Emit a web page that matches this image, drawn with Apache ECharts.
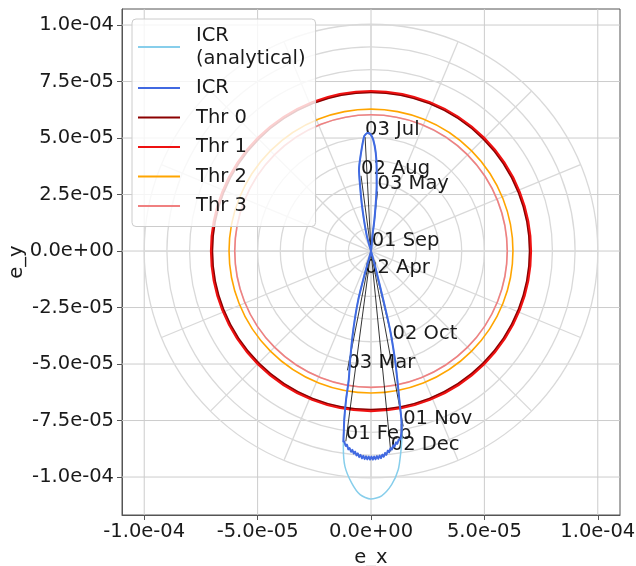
<!DOCTYPE html>
<html lang="en">
<head>
<meta charset="UTF-8">
<title>ICR</title>
<script src="https://cdn.jsdelivr.net/npm/echarts@6.0.0/dist/echarts.min.js"></script>
<style>
    html, body { margin: 0; padding: 0; background: #fff; }
    #chart { width: 636px; height: 566px; }
</style>
</head>
<body>
<div id="chart"></div>
<script>
// all values in units of 1e-6
var xTicks = [-100, -50, 0, 50, 100];
var yTicks = [-100, -75, -50, -25, 0, 25, 50, 75, 100];
var gridRadii = [10, 20, 30, 40, 50, 60, 70, 80, 90, 100];
var gridAngles = [0, 22.5, 45, 67.5, 90, 112.5, 135, 157.5, 180, 202.5, 225, 247.5, 270, 292.5, 315, 337.5];

var analyticX = [0, 2.2, 5.4, 8.4, 10.6, 11.6, 12.5, 13.4, 13.6, 13.1, 12.0, 9.1, 4.7, -0.1, -4.8, -8.5, -11.5, -12.2,
    -12.0, -11.8, -11.0, -9.8, -9.2, -7.8, -5.6, -2.6, 0, 0.6, 1.5, 2.1, 2.5, 2.5, 2.1, 1.0, -0.4, -1.6, -3.0, -4.4,
    -5.3, -4.8, -4.1, -3.1, -1.8, 0];
var analyticY = [0, -8.3, -21.5, -34.8, -48.2, -56.9, -65.8, -74.6, -82, -89.4, -96.8, -103.4, -108.3, -109.7, -107.8,
    -102.7, -95.3, -86.5, -80, -74.6, -65.8, -56.9, -48.2, -34.8, -21.5, -9.5, 0, 6.5, 13.8, 21.2, 28.6, 36, 43.4, 49.2,
    51.9, 52.2, 50.8, 43.4, 36, 28.6, 21.2, 13.8, 6.5, 0];

// numerical ICR: noisy near the bottom of the lower lobe
var icrX = [0, 2.2, 5.4, 8.4, 10.6, 11.6, 12.5, 13.4, 13.5, 12.8,
    12.2, 11.6, 11.0, 10.4, 9.8, 9.2, 8.6, 8.0, 7.4, 6.8, 6.2, 5.6, 5.0, 4.4, 3.8, 3.2, 2.6, 2.0, 1.4, 0.8, 0.2,
    -0.4, -1.0, -1.6, -2.2, -2.8, -3.4, -4.0, -4.6, -5.2, -5.8, -6.4, -7.0, -7.6, -8.2, -8.8, -9.4, -10.0, -10.6,
    -11.2, -11.8, -12.2,
    -12.0, -11.8, -11.0, -9.8, -9.2, -7.8, -5.6, -2.6, 0,
    0.6, 1.5, 2.1, 2.5, 2.5, 2.1, 1.0, -0.4, -1.6, -3.0, -4.4, -5.3, -4.8, -4.1, -3.1, -1.8, 0];
var icrY = [0, -8.3, -21.5, -34.8, -48.2, -56.9, -65.8, -74.6, -79.1, -83.5,
    -83.4, -85.4, -84.6, -86.6, -85.9, -87.9, -87.1, -89.1, -88.3, -90.3, -89.3, -91.1, -90.0, -91.7, -90.5, -92.0,
    -90.7, -92.2, -90.9, -92.3, -90.9, -92.3, -90.9, -92.2, -90.8, -92.1, -90.6, -91.8, -90.1, -91.2, -89.5, -90.5,
    -88.7, -89.7, -87.9, -88.9, -87.1, -87.8, -85.6, -86.3, -84.2, -84.5,
    -80, -74.6, -65.8, -56.9, -48.2, -34.8, -21.5, -9.5, 0,
    6.5, 13.8, 21.2, 28.6, 36, 43.4, 49.2, 51.9, 52.2, 50.8, 43.4, 36, 28.6, 21.2, 13.8, 6.5, 0];

var thrNames = ['Thr 0', 'Thr 1', 'Thr 2', 'Thr 3'];
var thrRadii = [70.0, 70.6, 62.6, 60.1];

var dateNames = ['03 Jul', '02 Aug', '03 May', '01 Sep', '02 Apr', '02 Oct', '03 Mar', '01 Nov', '01 Feb', '02 Dec'];
var dateX = [-2.6, -4.4, 2.9, 0.3, -2.6, 9.5, -10.4, 14.2, -11.1, 8.7];
var dateY = [50.4, 33.3, 26.4, 1.3, -10.5, -39.7, -52.8, -77.6, -84.2, -88.7];

var FONT = 'DejaVu Sans';
var TEXT = '#1a1a1a';

function fmt(v) {
    var s = (v * 1e-6).toExponential(1);
    return s.replace(/e([+-])(\d)$/, 'e$10$2');
}

function pairs(xs, ys) {
    return xs.map(function (x, i) { return [x, ys[i]]; });
}

var thrStyle = {
    'Thr 0': { color: '#8b0000', width: 2 },
    'Thr 1': { color: '#ee1111', width: 2 },
    'Thr 2': { color: '#ffa500', width: 1.6 },
    'Thr 3': { color: '#f08080', width: 1.6 }
};

var series = [];

// cartesian grid lines
series.push({
    type: 'custom',
    silent: true,
    data: xTicks.map(function (v) { return [v, 0]; }),
    renderItem: function (params, api) {
        var cs = params.coordSys;
        var x = api.coord([api.value(0), 0])[0];
        return { type: 'line', shape: { x1: x, y1: cs.y, x2: x, y2: cs.y + cs.height },
            style: { stroke: '#cccccc', lineWidth: 1 } };
    }
});
series.push({
    type: 'custom',
    silent: true,
    data: yTicks.map(function (v) { return [0, v]; }),
    renderItem: function (params, api) {
        var cs = params.coordSys;
        var y = api.coord([0, api.value(1)])[1];
        return { type: 'line', shape: { x1: cs.x, y1: y, x2: cs.x + cs.width, y2: y },
            style: { stroke: '#cccccc', lineWidth: 1 } };
    }
});

// polar grid
series.push({
    type: 'custom',
    silent: true,
    data: gridRadii.map(function (r) { return [r, 0]; }),
    renderItem: function (params, api) {
        var c = api.coord([0, 0]);
        var r = api.size([api.value(0), 0])[0];
        return { type: 'circle', shape: { cx: c[0], cy: c[1], r: r },
            style: { fill: 'none', stroke: '#d9d9d9', lineWidth: 1.3 } };
    }
});
series.push({
    type: 'custom',
    silent: true,
    data: gridAngles.map(function (a) { return [a, 0]; }),
    renderItem: function (params, api) {
        var a = api.value(0) * Math.PI / 180;
        var R = gridRadii[gridRadii.length - 1];
        var p0 = api.coord([0, 0]);
        var p1 = api.coord([R * Math.cos(a), R * Math.sin(a)]);
        return { type: 'line', shape: { x1: p0[0], y1: p0[1], x2: p1[0], y2: p1[1] },
            style: { stroke: '#d9d9d9', lineWidth: 1.3 } };
    }
});

series.push({
    name: 'ICR\n(analytical)',
    type: 'line',
    data: pairs(analyticX, analyticY),
    symbol: 'none',
    smooth: 0.25,
    itemStyle: { color: '#87ceeb' },
    lineStyle: { color: '#87ceeb', width: 1.5 }
});
series.push({
    name: 'ICR',
    type: 'line',
    data: pairs(icrX, icrY),
    symbol: 'none',
    smooth: 0.2,
    itemStyle: { color: '#4169e1' },
    lineStyle: { color: '#4169e1', width: 2 }
});

thrNames.forEach(function (name, i) {
    var st = thrStyle[name];
    series.push({
        name: name,
        type: 'custom',
        silent: true,
        itemStyle: { color: st.color },
        data: [[thrRadii[i], 0]],
        renderItem: function (params, api) {
            var c = api.coord([0, 0]);
            var r = api.size([api.value(0), 0])[0];
            return { type: 'circle', shape: { cx: c[0], cy: c[1], r: r },
                style: { fill: 'none', stroke: st.color, lineWidth: st.width } };
        }
    });
});

// date markers
series.push({
    type: 'custom',
    silent: true,
    data: pairs(dateX, dateY),
    renderItem: function (params, api) {
        var p0 = api.coord([0, 0]);
        var p = api.coord([api.value(0), api.value(1)]);
        return {
            type: 'group',
            children: [
                { type: 'line', shape: { x1: p0[0], y1: p0[1], x2: p[0], y2: p[1] },
                  style: { stroke: '#000', lineWidth: 0.8 } },
                { type: 'text', x: p[0], y: p[1] + 3,
                  style: { text: dateNames[params.dataIndex], fill: TEXT, fontSize: 19.5, fontFamily: FONT,
                      align: 'left', verticalAlign: 'bottom' } }
            ]
        };
    }
});

var chart = echarts.init(document.getElementById('chart'));
chart.setOption({
    animation: false,
    backgroundColor: '#fff',
    textStyle: { fontFamily: FONT },
    grid: { left: 122, right: 16, top: 9, bottom: 51, show: true, borderColor: '#555', borderWidth: 1,
        containLabel: false, outerBoundsMode: 'none' },
    legend: {
        data: ['ICR\n(analytical)', 'ICR', 'Thr 0', 'Thr 1', 'Thr 2', 'Thr 3'],
        orient: 'vertical',
        left: 132,
        top: 19,
        icon: 'rect',
        itemWidth: 42,
        itemHeight: 2,
        itemGap: 6.5,
        padding: [5, 10, 9, 6],
        backgroundColor: 'rgba(255,255,255,0.8)',
        borderColor: '#cccccc',
        borderWidth: 1,
        borderRadius: 4,
        selectedMode: false,
        textStyle: { fontSize: 19.5, lineHeight: 23, color: TEXT, fontFamily: FONT, padding: [0, 0, 0, 11] }
    },
    xAxis: {
        type: 'value',
        min: -109.8,
        max: 109.8,
        name: 'e_x',
        nameLocation: 'middle',
        nameGap: 33,
        nameMoveOverlap: false,
        nameTextStyle: { fontSize: 19.5, color: TEXT, fontFamily: FONT },
        axisLine: { show: true, onZero: false, lineStyle: { color: '#555' } },
        axisTick: { show: true, length: 5, customValues: xTicks, lineStyle: { color: '#555' } },
        axisLabel: { customValues: xTicks, formatter: fmt, fontSize: 19.5, color: TEXT, margin: 7, fontFamily: FONT },
        splitLine: { show: false }
    },
    yAxis: {
        type: 'value',
        min: -116.8,
        max: 107.1,
        name: 'e_y',
        nameLocation: 'middle',
        nameRotate: 90,
        nameGap: 95,
        nameMoveOverlap: false,
        nameTextStyle: { fontSize: 19.5, color: TEXT, fontFamily: FONT },
        axisLine: { show: true, onZero: false, lineStyle: { color: '#555' } },
        axisTick: { show: true, length: 5, customValues: yTicks, lineStyle: { color: '#555' } },
        axisLabel: { customValues: yTicks, formatter: fmt, fontSize: 19.5, color: TEXT, margin: 8, fontFamily: FONT },
        splitLine: { show: false }
    },
    series: series
});
</script>
</body>
</html>
